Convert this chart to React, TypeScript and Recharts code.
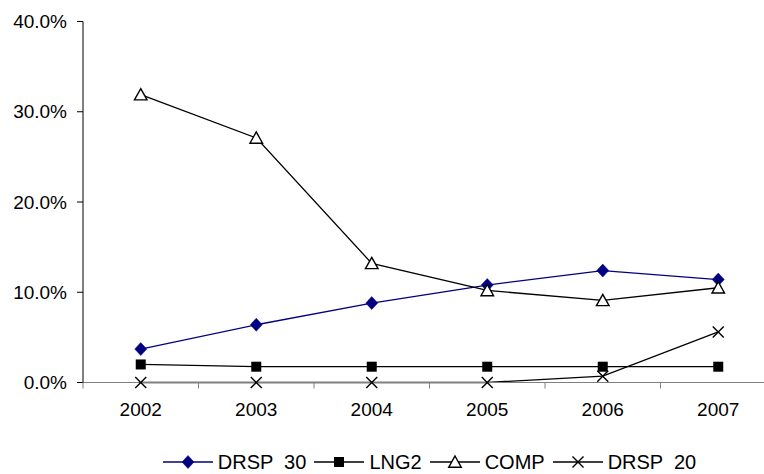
import React from 'react';
import { LineChart, Line, XAxis, YAxis, Legend } from 'recharts';

const years = ['2002', '2003', '2004', '2005', '2006', '2007'];
const drsp30 = [3.7, 6.4, 8.8, 10.8, 12.4, 11.4];
const lng2 = [2.0, 1.75, 1.75, 1.75, 1.75, 1.75];
const comp = [31.9, 27.1, 13.2, 10.2, 9.1, 10.5];
const drsp20 = [0, 0, 0, 0, 0.7, 5.6];
const yTicks = [0, 10, 20, 30, 40];
const seriesNames = ['DRSP  30', 'LNG2', 'COMP', 'DRSP  20'];

const data = years.map((y, i) => ({
  year: y,
  drsp30: drsp30[i],
  lng2: lng2[i],
  comp: comp[i],
  drsp20: drsp20[i],
}));

const FONT = '"Liberation Sans", Arial, sans-serif';
const HALF = 57.75;
const NAVY = '#000080';

type MarkerKind = 'diamond' | 'square' | 'triangle' | 'cross';

const Marker = ({ kind, cx, cy, color }: { kind: MarkerKind; cx: number; cy: number; color: string }) => {
  if (cx == null || cy == null) return null;
  if (kind === 'diamond') {
    return <polygon points={`${cx},${cy - 6.5} ${cx + 6},${cy} ${cx},${cy + 6.5} ${cx - 6},${cy}`} fill={color} stroke={color} strokeWidth={0.5} />;
  }
  if (kind === 'square') {
    return <rect x={cx - 5} y={cy - 5} width={10} height={10} fill={color} />;
  }
  if (kind === 'triangle') {
    return <polygon points={`${cx},${cy - 6} ${cx + 6.3},${cy + 5.3} ${cx - 6.3},${cy + 5.3}`} fill="#fff" stroke={color} strokeWidth={1.4} />;
  }
  return (
    <g stroke={color} strokeWidth={1.4}>
      <line x1={cx - 5.5} y1={cy - 5.5} x2={cx + 5.5} y2={cy + 5.5} />
      <line x1={cx - 5.5} y1={cy + 5.5} x2={cx + 5.5} y2={cy - 5.5} />
    </g>
  );
};

const makeDot = (kind: MarkerKind, color: string) => (p: any) => (
  <Marker key={`${kind}-${p.index}`} kind={kind} cx={p.cx} cy={p.cy} color={color} />
);

const XTick = (props: any) => {
  const { x, y, payload } = props;
  return (
    <g>
      <line x1={x - HALF} x2={x - HALF} y1={y - 20} y2={y - 14} stroke="#808080" strokeWidth={1} />
      <text x={x} y={y} dy="0.71em" textAnchor="middle" fontSize={19} fill="#000" fontFamily={FONT}>
        {payload.value}
      </text>
    </g>
  );
};

const legendItems: { name: string; kind: MarkerKind; color: string }[] = [
  { name: seriesNames[0], kind: 'diamond', color: NAVY },
  { name: seriesNames[1], kind: 'square', color: '#000' },
  { name: seriesNames[2], kind: 'triangle', color: '#000' },
  { name: seriesNames[3], kind: 'cross', color: '#000' },
];

const LegendContent = () => (
  <div style={{ display: 'flex', justifyContent: 'center', alignItems: 'center', height: 22, fontFamily: FONT, fontSize: 20, color: '#000' }}>
    {legendItems.map((it, i) => (
      <div key={it.name} style={{ display: 'flex', alignItems: 'center', marginLeft: i === 0 ? 0 : 8 }}>
        <svg width={50} height={22} style={{ display: 'block' }}>
          <line x1={0} x2={50} y1={11} y2={11} stroke={it.color} strokeWidth={1.3} />
          <Marker kind={it.kind} cx={25} cy={11} color={it.color} />
        </svg>
        <span style={{ whiteSpace: 'pre', marginLeft: 5, lineHeight: '22px' }}>{it.name}</span>
      </div>
    ))}
  </div>
);

export default function App() {
  return (
    <div style={{ position: 'fixed', left: 0, top: 0, width: 764, height: 474, overflow: 'hidden', background: '#fff' }}>
      <LineChart width={764} height={474} data={data} margin={{ top: 21.5, right: -12, bottom: 0, left: 0 }}>
        <XAxis
          dataKey="year"
          type="category"
          padding={{ left: HALF, right: HALF }}
          height={69.5}
          tickSize={6}
          tickMargin={14}
          tickLine={false}
          axisLine={{ stroke: '#808080', strokeWidth: 1 }}
          tick={<XTick />}
          interval={0}
        />
        <YAxis
          width={83}
          domain={[0, 40]}
          ticks={yTicks}
          interval={0}
          tickFormatter={(v: number) => `${v.toFixed(1)}%`}
          tickSize={6}
          tickMargin={10}
          axisLine={{ stroke: '#000', strokeWidth: 1 }}
          tickLine={{ stroke: '#000', strokeWidth: 1 }}
          tick={{ fontSize: 19, fill: '#000', fontFamily: FONT }}
        />
        <Legend
          verticalAlign="bottom"
          content={<LegendContent />}
          wrapperStyle={{ top: 451, left: 95, width: 669, height: 22, bottom: 'auto' }}
        />
        <Line dataKey="drsp30" name={seriesNames[0]} stroke={NAVY} strokeWidth={1.3} isAnimationActive={false} dot={makeDot('diamond', NAVY)} activeDot={false} />
        <Line dataKey="lng2" name={seriesNames[1]} stroke="#000" strokeWidth={1.3} isAnimationActive={false} dot={makeDot('square', '#000')} activeDot={false} />
        <Line dataKey="comp" name={seriesNames[2]} stroke="#000" strokeWidth={1.3} isAnimationActive={false} dot={makeDot('triangle', '#000')} activeDot={false} />
        <Line dataKey="drsp20" name={seriesNames[3]} stroke="#000" strokeWidth={1.3} isAnimationActive={false} dot={makeDot('cross', '#000')} activeDot={false} />
      </LineChart>
    </div>
  );
}
